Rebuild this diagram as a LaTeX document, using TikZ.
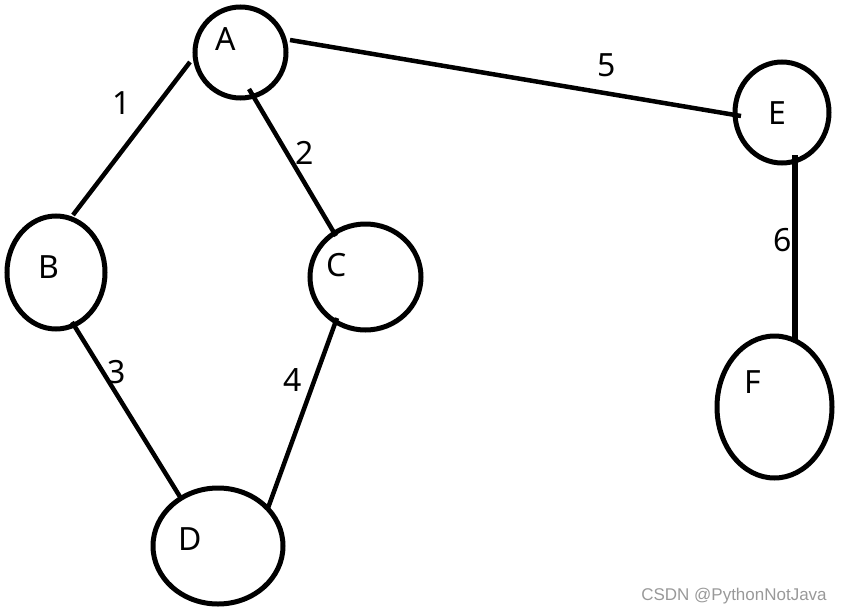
\documentclass[tikz,border=0pt]{standalone}
\usepackage{fontspec}
\setmainfont{Noto Sans}
\newfontfamily\wmfont{Liberation Sans}
\usetikzlibrary{shapes.geometric,calc}
\tikzset{
  vertex/.style={draw, ellipse, line width=5pt, inner sep=0pt},
  lbl/.style={font=\fontsize{32}{32}\selectfont, inner sep=0pt},
  edge/.style={line width=4.5pt},
  thick edge/.style={line width=6pt}
}
\begin{document}
\begin{tikzpicture}[x=1pt,y=-1pt]
\useasboundingbox (0,0) rectangle (844,616);
% vertices
\node[vertex, minimum width=91pt,  minimum height=91pt]  (A) at (240.5,52.5) {};
\node[vertex, minimum width=98pt,  minimum height=113pt] (B) at (56,272.5) {};
\node[vertex, minimum width=111pt, minimum height=106pt] (C) at (365.5,277) {};
\node[vertex, minimum width=130pt, minimum height=116pt] (D) at (218,546) {};
\node[vertex, minimum width=94pt,  minimum height=101pt] (E) at (782,112.5) {};
\node[vertex, minimum width=115pt, minimum height=142pt] (F) at (774.5,407) {};
% vertex letters
\node[lbl] (tA) at (226,39) {A};
\node[lbl] (tB) at (49,267) {B};
\node[lbl] (tC) at (337,265) {C};
\node[lbl] (tD) at (190,539) {D};
\node[lbl] (tE) at (777,113) {E};
\node[lbl] (tF) at (753,382) {F};
% edges
\draw[edge] ($(A)+(-50.5,9.5)$) -- ($(B)+(17,-57.5)$);
\draw[edge] ($(A)+(8.5,36.5)$) -- ($(C)+(-29.5,-41)$);
\draw[edge] ($(B)+(16,49.5)$) -- ($(D)+(-36,-46)$);
\draw[edge] ($(C)+(-28.5,41)$) -- ($(D)+(50,-38)$);
\draw[edge] ($(A)+(49.5,-12.5)$) -- ($(E)+(-41,3.5)$);
\draw[thick edge] ($(E)+(13,42.5)$) -- ($(F)+(20.5,-65)$);
% edge weights
\node[lbl] (w1) at (122,103) {1};
\node[lbl] (w2) at (305,153) {2};
\node[lbl] (w3) at (117,372) {3};
\node[lbl] (w4) at (293,380) {4};
\node[lbl] (w5) at (607,65) {5};
\node[lbl] (w6) at (783,240) {6};
% watermark
\node[font=\wmfont\fontsize{17}{17}\selectfont, text=black!40, inner sep=0pt] (wm) at (734,596) {CSDN @PythonNotJava};
\end{tikzpicture}
\end{document}
